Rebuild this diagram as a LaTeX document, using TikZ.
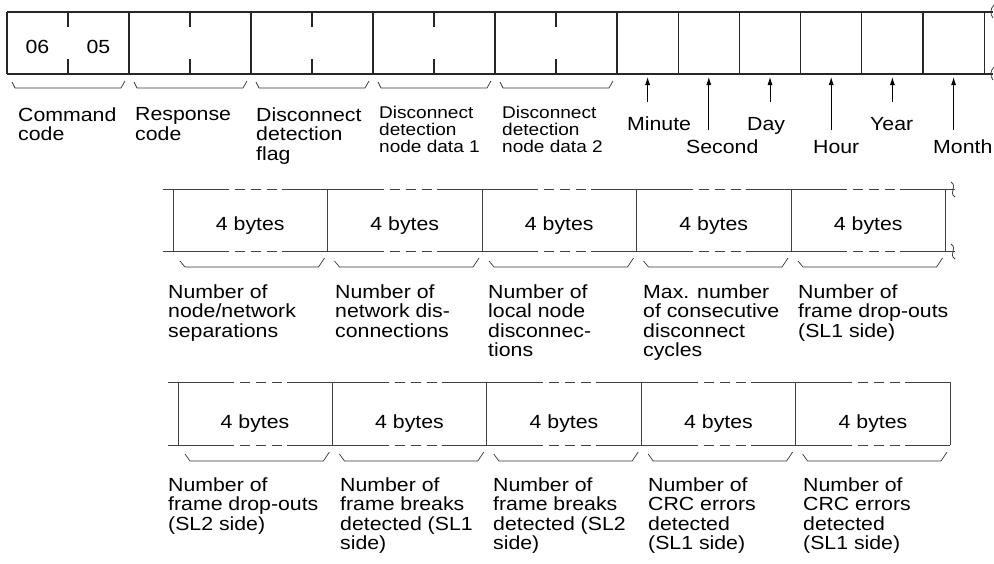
\documentclass[tikz,border=0pt]{standalone}
\usepackage{fontspec}
\setmainfont{Liberation Sans}[FakeStretch=1.12]
\usetikzlibrary{arrows.meta}
\newcommand{\fldfont}{\fontsize{19}{19.5}\selectfont}
\newcommand{\fldsmall}{\fontsize{17}{17}\selectfont}

\begin{document}
\begin{tikzpicture}[x=1pt,y=-1pt,
  frameline/.style={line width=1.1pt,black!85},
  rowline/.style={line width=0.8pt,black!75},
  gapline/.style={rowline,dash pattern={on 101.5pt off 6pt on 10pt off 6pt on 10pt off 6pt on 10pt off 5pt},
    dash phase=35.5pt},
  bracket/.style={line width=0.7pt,black!80,line join=round},
  fieldlabel/.style={anchor=north west,inner sep=0pt,align=left,font=\fldfont},
  smalllabel/.style={fieldlabel,font=\fldsmall},
  timelabel/.style={anchor=base west,inner sep=0pt,font=\fldfont},
  bytetext/.style={anchor=base,inner sep=0pt,font=\fldfont},
  timearr/.style={-{Latex[length=8pt,width=5pt]},line width=0.8pt}
]
  \useasboundingbox (0,0) rectangle (994,563);

  % Command frame (top row)
  \draw[frameline] (7,12) -- (993,12) (7,74) -- (993,74);
  \draw[frameline] (7,12) -- (7,74) (129,12) -- (129,74) (251,12) -- (251,74)
    (373,12) -- (373,74) (495,12) -- (495,74) (617,12) -- (617,74)
    (678.2,12) -- (678.2,74) (739.4,12) -- (739.4,74) (800.6,12) -- (800.6,74)
    (861.8,12) -- (861.8,74) (923,12) -- (923,74) (984.2,12) -- (984.2,74);
  \draw[frameline] (68,12) -- (68,27) (68,74) -- (68,59)
    (190,12) -- (190,27) (190,74) -- (190,59)
    (312,12) -- (312,27) (312,74) -- (312,59)
    (434,12) -- (434,27) (434,74) -- (434,59)
    (556,12) -- (556,27) (556,74) -- (556,59);
  \draw[rowline] (994,5) .. controls (990,9) and (990,14) .. (993,18);
  \draw[rowline] (994,67) .. controls (990,71) and (990,76) .. (993,80);

  \node[bytetext] (cmdhi) at (37.5,53) {06};
  \node[bytetext] (cmdlo) at (98.5,53) {05};

  % Brackets under the top row
  \draw[bracket] (12,82) -- (15,88) -- (121,88) -- (125,81);
  \draw[bracket] (134,82) -- (137,88) -- (243,88) -- (247,81);
  \draw[bracket] (256,82) -- (259,88) -- (365,88) -- (369,81);
  \draw[bracket] (378,82) -- (381,88) -- (487,88) -- (491,81);
  \draw[bracket] (500,82) -- (503,88) -- (609,88) -- (613,81);

  % Top row labels
  \node[fieldlabel] (cmdcode) at (18,107.3) {Command\\code};
  \node[fieldlabel] (rspcode) at (135,107.3) {Response\\code};
  \node[fieldlabel] (flag) at (256,107.3) {Disconnect\\detection\\flag};
  \node[smalllabel] (nodedata1) at (379,105.8) {Disconnect\\detection\\node data 1};
  \node[smalllabel] (nodedata2) at (502,105.8) {Disconnect\\detection\\node data 2};

  % Time stamp
  \node[timelabel] (minute) at (627,130) {Minute};
  \node[timelabel] (second) at (686,153) {Second};
  \node[timelabel] (day) at (747,130) {Day};
  \node[timelabel] (hour) at (813,153) {Hour};
  \node[timelabel] (year) at (870,130) {Year};
  \node[timelabel] (month) at (933,153) {Month};

  \coordinate (minT) at (647.6,77);  \coordinate (minF) at (647.6,102);
  \coordinate (secT) at (708.8,77);  \coordinate (secF) at (708.8,130);
  \coordinate (dayT) at (770,77);    \coordinate (dayF) at (770,102);
  \coordinate (hrT) at (831.2,77);   \coordinate (hrF) at (831.2,130);
  \coordinate (yrT) at (892.4,77);   \coordinate (yrF) at (892.4,102);
  \coordinate (monT) at (953.6,77);  \coordinate (monF) at (953.6,130);
  \draw[timearr] (minF) -- (minT);
  \draw[timearr] (secF) -- (secT);
  \draw[timearr] (dayF) -- (dayT);
  \draw[timearr] (hrF) -- (hrT);
  \draw[timearr] (yrF) -- (yrT);
  \draw[timearr] (monF) -- (monT);

  % Second row: 4-byte counters
  \draw[gapline] (163,189) -- (955,189);
  \draw[gapline] (163,251) -- (955,251);
  \draw[rowline] (173,189) -- (173,251) (327.5,189) -- (327.5,251) (482,189) -- (482,251)
    (636.5,189) -- (636.5,251) (791,189) -- (791,251) (945.5,189) -- (945.5,251);
  \draw[rowline] (951,182) .. controls (958,187) and (948,192) .. (955,197);
  \draw[rowline] (951,244) .. controls (958,249) and (948,254) .. (955,259);

  \node[bytetext] (cnt1) at (250.25,230) {4 bytes};
  \node[bytetext] (cnt2) at (404.75,230) {4 bytes};
  \node[bytetext] (cnt3) at (559.25,230) {4 bytes};
  \node[bytetext] (cnt4) at (713.75,230) {4 bytes};
  \node[bytetext] (cnt5) at (868.25,230) {4 bytes};

  \draw[bracket] (180,261) -- (185,267) -- (318.5,267) -- (324.5,258);
  \draw[bracket] (334.5,261) -- (339.5,267) -- (473,267) -- (479,258);
  \draw[bracket] (489,261) -- (494,267) -- (627.5,267) -- (633.5,258);
  \draw[bracket] (643.5,261) -- (648.5,267) -- (782,267) -- (788,258);
  \draw[bracket] (798,261) -- (803,267) -- (936.5,267) -- (942.5,258);

  \node[fieldlabel] (separations) at (168,284.3) {Number of\\node/network\\separations};
  \node[fieldlabel] (netdisc) at (335,284.3) {Number of\\network dis-\\connections};
  \node[fieldlabel] (localdisc) at (488,284.3) {Number of\\local node\\disconnec-\\tions};
  \node[fieldlabel] (maxcycles) at (643,284.3) {Max. number\\of consecutive\\disconnect\\cycles};
  \node[fieldlabel] (dropsl1) at (798,284.3) {Number of\\frame drop-outs\\(SL1 side)};

  % Third row: 4-byte counters
  \draw[gapline] (168,382) -- (950,382);
  \draw[gapline] (168,445) -- (950,445);
  \draw[rowline] (178,382) -- (178,445) (332.4,382) -- (332.4,445) (486.8,382) -- (486.8,445)
    (641.2,382) -- (641.2,445) (795.6,382) -- (795.6,445) (950,382) -- (950,445);

  \node[bytetext] (cnt6) at (255,428) {4 bytes};
  \node[bytetext] (cnt7) at (409.5,428) {4 bytes};
  \node[bytetext] (cnt8) at (564,428) {4 bytes};
  \node[bytetext] (cnt9) at (718.5,428) {4 bytes};
  \node[bytetext] (cnt10) at (873,428) {4 bytes};

  \draw[bracket] (185,454) -- (190,461) -- (323.4,461) -- (329.4,452);
  \draw[bracket] (339.4,454) -- (344.4,461) -- (477.8,461) -- (483.8,452);
  \draw[bracket] (493.8,454) -- (498.8,461) -- (632.2,461) -- (638.2,452);
  \draw[bracket] (648.2,454) -- (653.2,461) -- (786.6,461) -- (792.6,452);
  \draw[bracket] (802.6,454) -- (807.6,461) -- (941,461) -- (947,452);

  \node[fieldlabel] (dropsl2) at (168,477.3) {Number of\\frame drop-outs\\(SL2 side)};
  \node[fieldlabel] (breaksl1) at (340,477.3) {Number of\\frame breaks\\detected (SL1\\side)};
  \node[fieldlabel] (breaksl2) at (493,477.3) {Number of\\frame breaks\\detected (SL2\\side)};
  \node[fieldlabel] (crcsl1a) at (648,477.3) {Number of\\CRC errors\\detected\\(SL1 side)};
  \node[fieldlabel] (crcsl1b) at (803,477.3) {Number of\\CRC errors\\detected\\(SL1 side)};
\end{tikzpicture}
\end{document}
